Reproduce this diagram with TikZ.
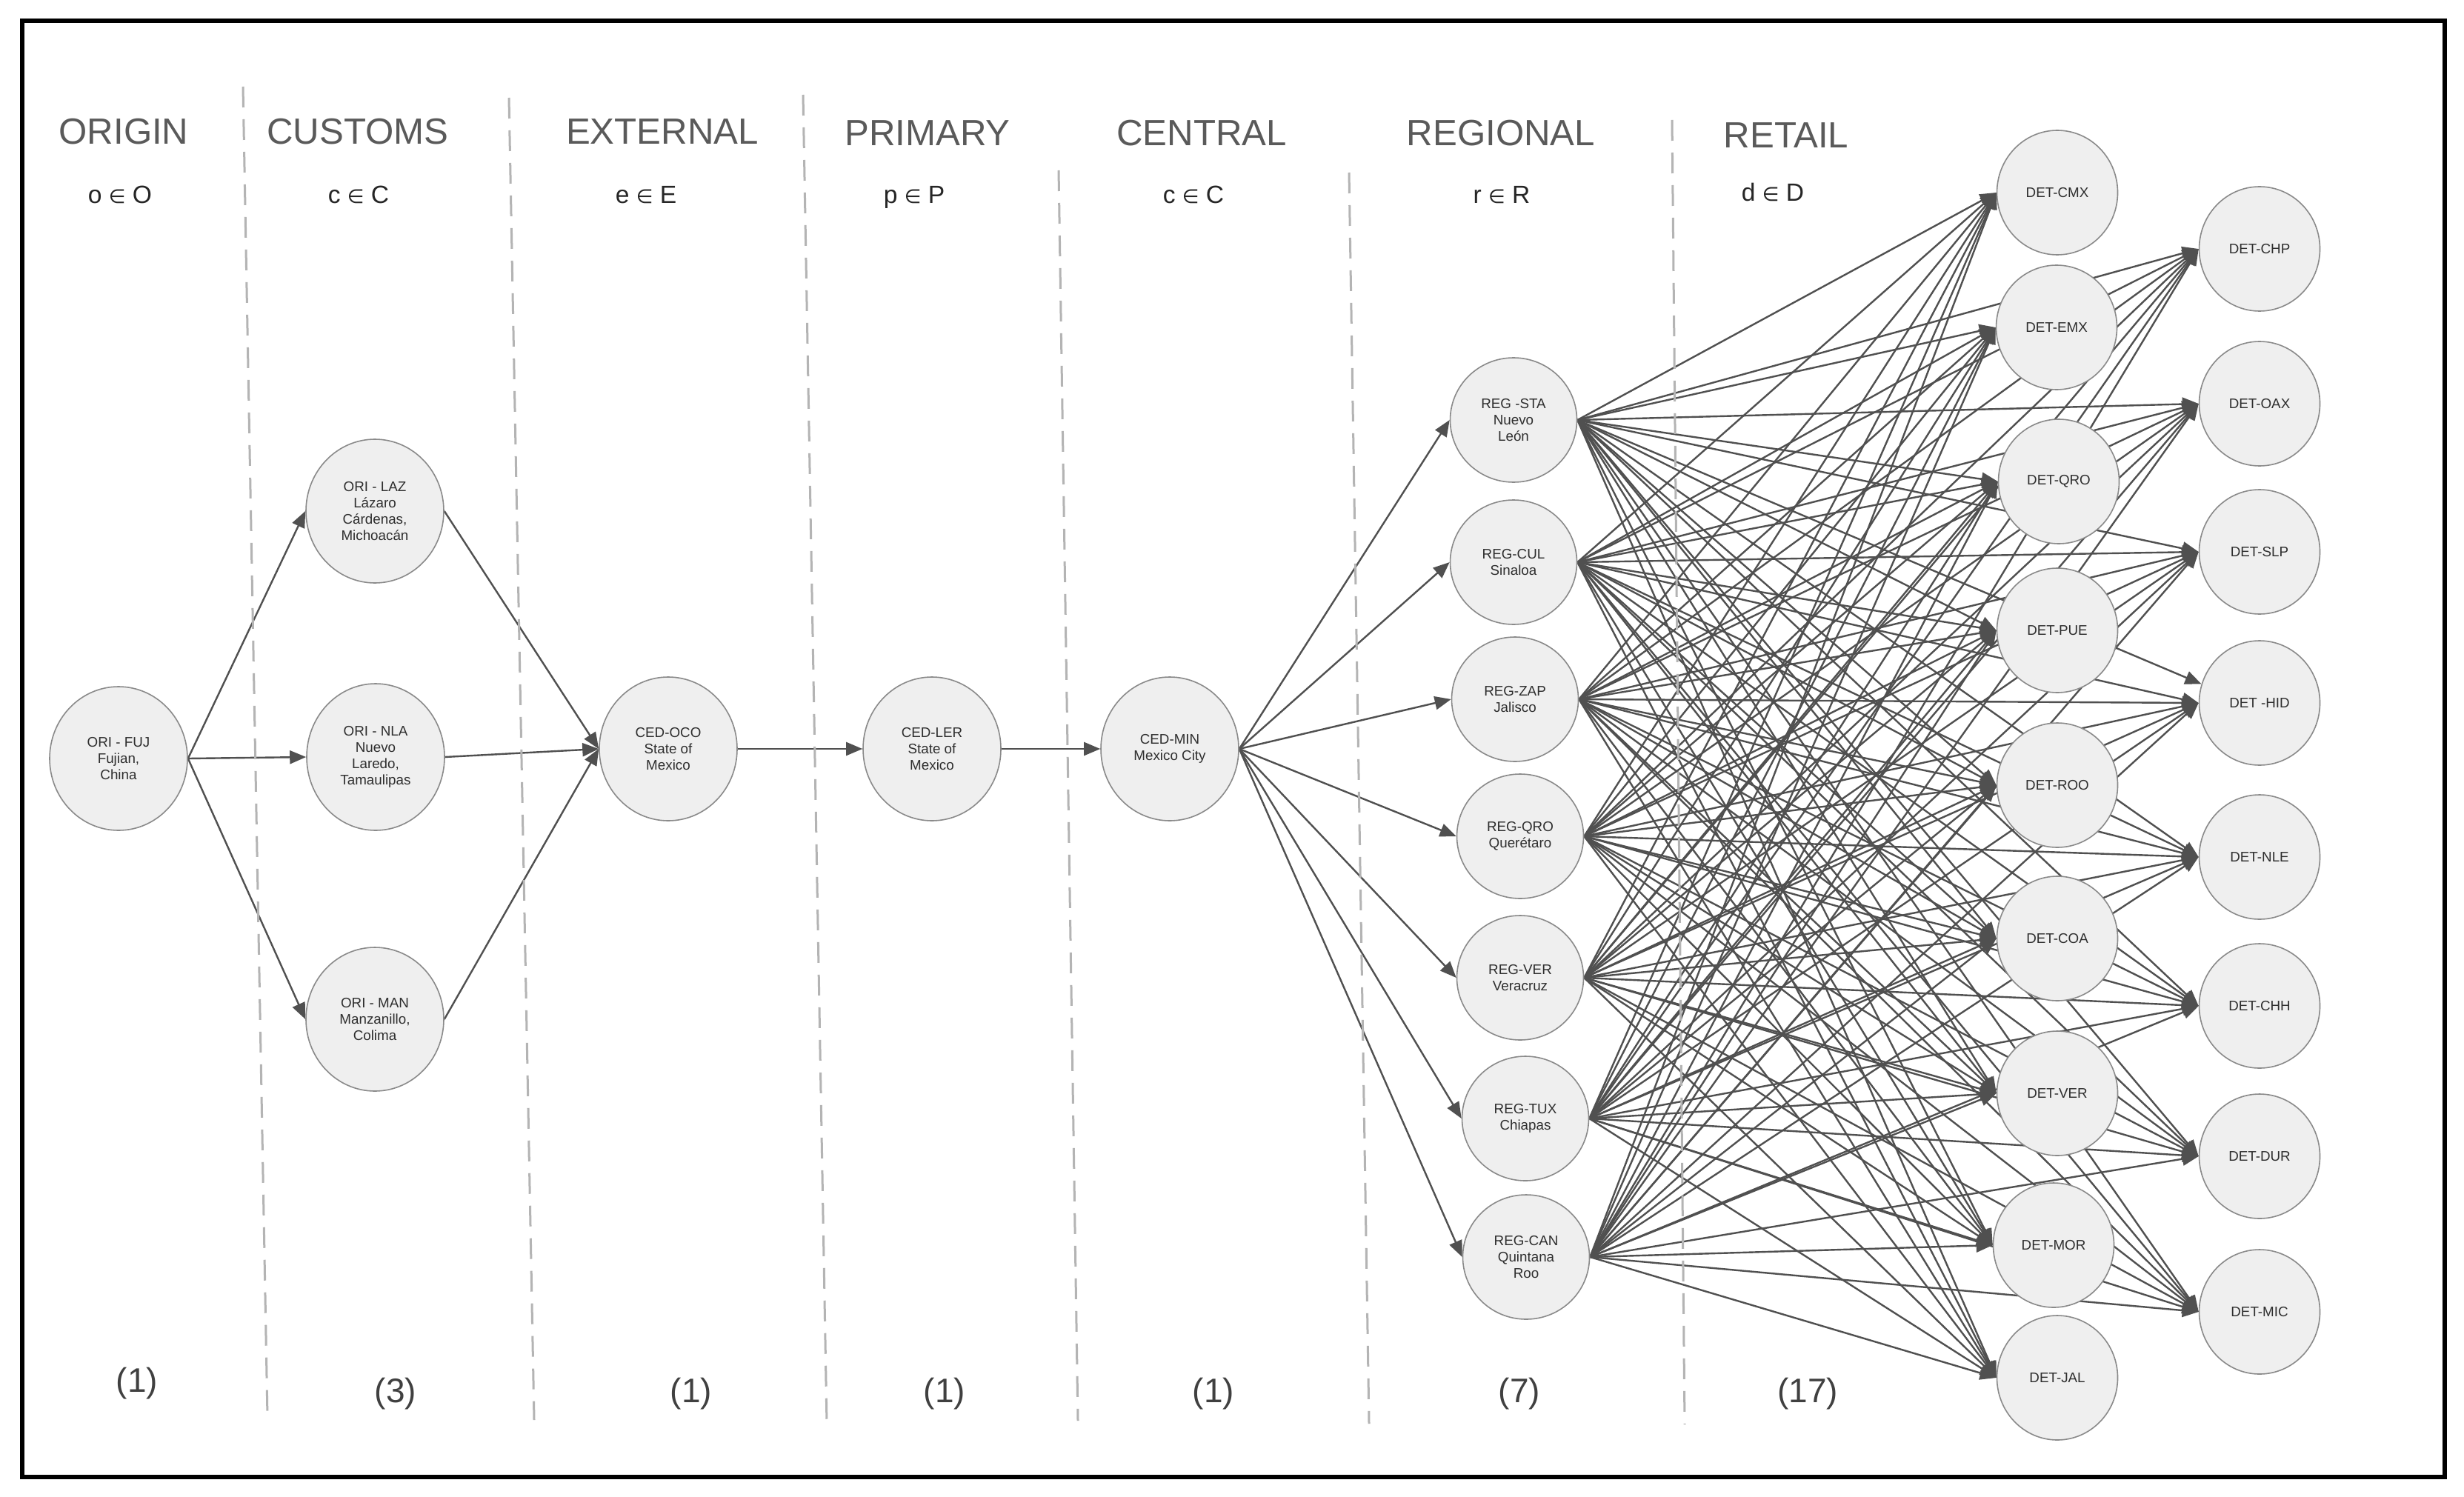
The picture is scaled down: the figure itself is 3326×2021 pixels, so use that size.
\documentclass[tikz,border=0pt]{standalone}
\usepackage{fontspec}
\setmainfont{Liberation Sans}
\newfontfamily\dejavu{DejaVu Sans}
\usetikzlibrary{shapes.geometric,arrows.meta}
\pgfdeclarelayer{bg}
\pgfsetlayers{bg,main}
\definecolor{nodefill}{HTML}{EFEFEF}
\definecolor{nodedraw}{HTML}{8A8A8A}
\definecolor{edgecol}{HTML}{505050}
\definecolor{headcol}{HTML}{5A5A5A}
\definecolor{sepcol}{HTML}{B4B4B4}
\definecolor{txtcol}{HTML}{2E2E2E}
\newcommand{\myin}{{\dejavu\fontsize{6.5pt}{7pt}\selectfont ∈}}
\tikzset{
 loc/.style={ellipse, draw=nodedraw, line width=0.4pt, fill=nodefill, inner sep=0pt, align=center, text=txtcol, font=\fontsize{4.7pt}{5.5pt}\selectfont},
 orinode/.style={loc, minimum width=46.5pt, minimum height=48.5pt},
 regnode/.style={loc, minimum width=42.75pt, minimum height=42pt},
 detnode/.style={loc, minimum width=40.75pt, minimum height=42pt},
 flow/.style={draw=edgecol, line width=0.6pt, -{Triangle[length=5.5pt,width=4.5pt]}},
 sepline/.style={draw=sepcol, line width=0.75pt, dash pattern=on 7pt off 4pt},
 head/.style={anchor=base, text=headcol, font=\fontsize{12.3pt}{14pt}\selectfont},
 sub/.style={anchor=base, text=black!85, font=\fontsize{8.4pt}{9pt}\selectfont},
 cnt/.style={text=black!75, font=\fontsize{11.5pt}{13pt}\selectfont},
 frame/.style={draw=black, line width=1.3pt},
}
\begin{document}
\begin{tikzpicture}[x=0.25pt,y=-0.25pt]
\begin{pgfonlayer}{bg}
\path[use as bounding box, fill=white] (0,0) rectangle (3326,2021);
\end{pgfonlayer}
\draw[frame] (30,28) rectangle (3300,1994);

% separators
\draw[sepline] (328,117) -- (361,1912);
\draw[sepline] (687,132) -- (721,1917);
\draw[sepline] (1084,128) -- (1116,1922);
\draw[sepline] (1429,230) -- (1455,1918);
\draw[sepline] (1821,233) -- (1848,1922);
\draw[sepline] (2257,162) -- (2274,1923);

% headers
\node[head] (h1) at (167,195) {ORIGIN};
\node[head] (h2) at (483,195) {CUSTOMS};
\node[head] (h3) at (894,195) {EXTERNAL};
\node[head] (h4) at (1252,197) {PRIMARY};
\node[head] (h5) at (1622,197) {CENTRAL};
\node[head] (h6) at (2026,197) {REGIONAL};
\node[head] (h7) at (2411,200) {RETAIL};

\node[sub] (s1) at (162,275) {o \myin{} O};
\node[sub] (s2) at (484,275) {c \myin{} C};
\node[sub] (s3) at (872,275) {e \myin{} E};
\node[sub] (s4) at (1234,275) {p \myin{} P};
\node[sub] (s5) at (1611,275) {c \myin{} C};
\node[sub] (s6) at (2027,275) {r \myin{} R};
\node[sub] (s7) at (2393,272) {d \myin{} D};

\node[cnt] (c1) at (185,1868) {(1)};
\node[cnt] (c2) at (534,1882) {(3)};
\node[cnt] (c3) at (933,1882) {(1)};
\node[cnt] (c4) at (1275,1882) {(1)};
\node[cnt] (c5) at (1638,1882) {(1)};
\node[cnt] (c6) at (2051,1882) {(7)};
\node[cnt] (c7) at (2440,1882) {(17)};

% nodes
\node[orinode] (fuj) at (160,1024) {ORI - FUJ\\Fujian,\\China};
\node[orinode] (laz) at (506,690) {ORI - LAZ\\Lázaro\\Cárdenas,\\Michoacán};
\node[orinode, minimum height=49.5pt] (nla) at (507,1022) {ORI - NLA\\Nuevo\\Laredo,\\Tamaulipas};
\node[orinode] (man) at (506,1376) {ORI - MAN\\Manzanillo,\\Colima};
\node[orinode] (oco) at (902,1011) {CED-OCO\\State of\\Mexico};
\node[orinode] (ler) at (1258,1011) {CED-LER\\State of\\Mexico};
\node[orinode] (cmin) at (1579,1011) {CED-MIN\\Mexico City};

\node[regnode] (sta) at (2043,567) {REG -STA\\Nuevo\\León};
\node[regnode] (cul) at (2043,759) {REG-CUL\\Sinaloa};
\node[regnode] (zap) at (2045,944) {REG-ZAP\\Jalisco};
\node[regnode] (rqro) at (2052,1129) {REG-QRO\\Querétaro};
\node[regnode] (rver) at (2052,1320) {REG-VER\\Veracruz};
\node[regnode] (tux) at (2059,1510) {REG-TUX\\Chiapas};
\node[regnode] (can) at (2060,1697) {REG-CAN\\Quintana\\Roo};

\node[detnode] (cmx) at (2777,260) {DET-CMX};
\node[detnode] (emx) at (2776,442) {DET-EMX};
\node[detnode] (dqro) at (2779,650) {DET-QRO};
\node[detnode] (pue) at (2777,851) {DET-PUE};
\node[detnode] (roo) at (2777,1060) {DET-ROO};
\node[detnode] (coa) at (2777,1267) {DET-COA};
\node[detnode] (dver) at (2777,1476) {DET-VER};
\node[detnode] (mor) at (2772,1681) {DET-MOR};
\node[detnode] (jal) at (2777,1860) {DET-JAL};

\node[detnode] (chp) at (3050,336) {DET-CHP};
\node[detnode] (oax) at (3050,545) {DET-OAX};
\node[detnode] (slp) at (3050,745) {DET-SLP};
\node[detnode] (hid) at (3050,949) {DET -HID};
\node[detnode] (nle) at (3050,1157) {DET-NLE};
\node[detnode] (chh) at (3050,1358) {DET-CHH};
\node[detnode] (dur) at (3050,1561) {DET-DUR};
\node[detnode] (mic) at (3050,1771) {DET-MIC};

% edges
\begin{pgfonlayer}{bg}
\foreach \c in {laz,nla,man} {
  \draw[flow] (fuj.east) -- (\c.west);
  \draw[flow] (\c.east) -- (oco.west);
}
\draw[flow] (oco.east) -- (ler.west);
\draw[flow] (ler.east) -- (cmin.west);
\foreach \r in {sta,cul,zap,rqro,rver,tux,can} {
  \draw[flow] (cmin.east) -- (\r.west);
  \foreach \d in {cmx,emx,dqro,pue,roo,coa,dver,mor,jal,chp,oax,slp,nle,chh,dur,mic}
    \draw[flow] (\r.east) -- (\d.west);
}
\foreach \r in {cul,zap,rqro,rver,tux,can}
  \draw[flow] (\r.east) -- (hid.west);
\draw[flow] (sta.east) -- (hid.162);
\end{pgfonlayer}
\end{tikzpicture}
\end{document}
